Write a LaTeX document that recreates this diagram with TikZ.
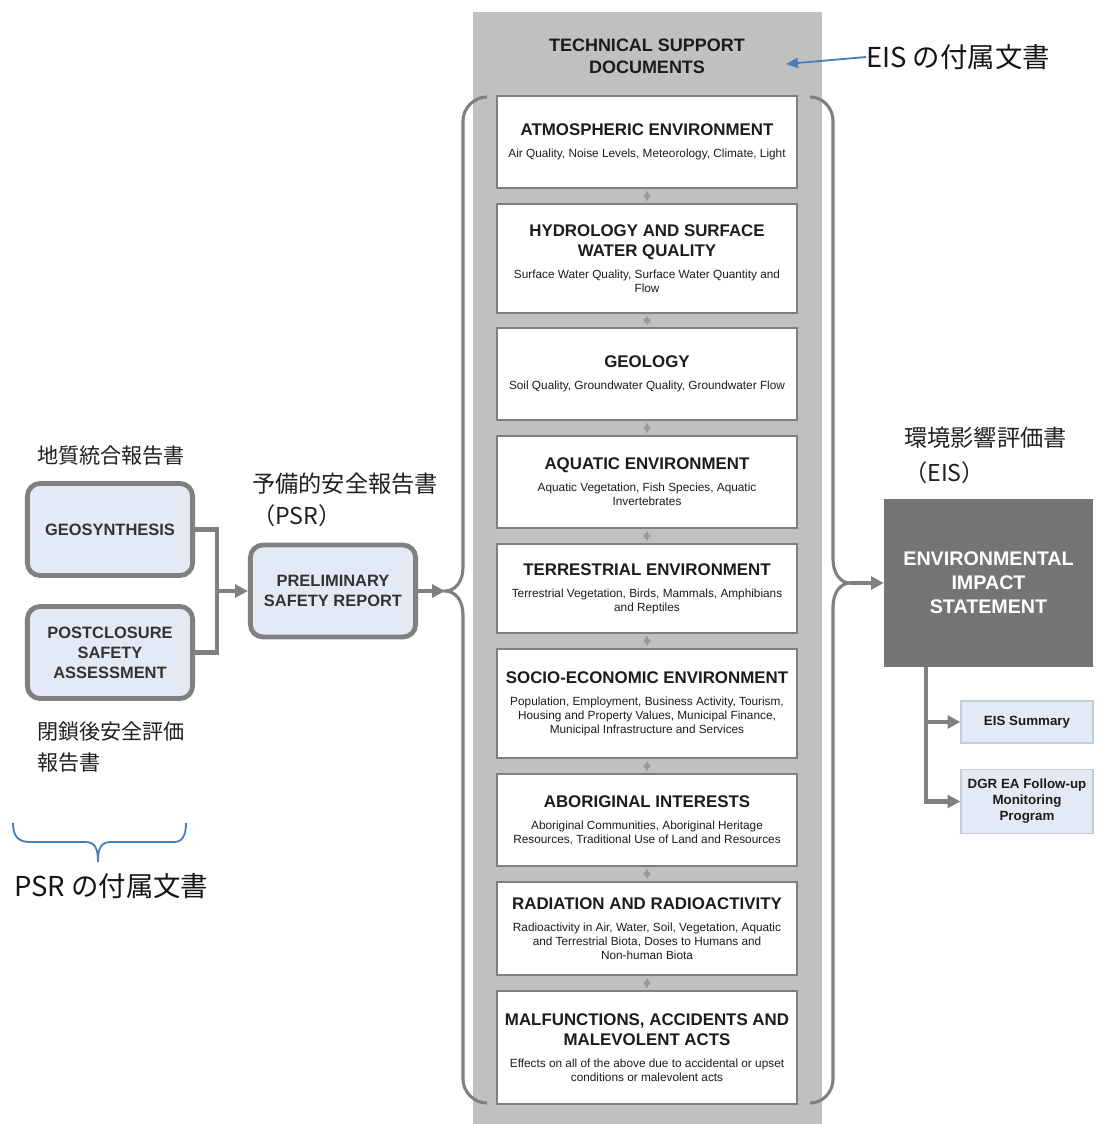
\documentclass[tikz,border=0pt]{standalone}
\usepackage{fontspec}
\setmainfont{Liberation Sans}
\newfontfamily\jpfont{Noto Sans CJK JP}
\usetikzlibrary{arrows.meta,positioning,calc}
\definecolor{colgrey}{RGB}{192,192,192}
\definecolor{edgegrey}{RGB}{128,128,128}
\definecolor{darkbox}{RGB}{117,117,117}
\definecolor{paleblue}{RGB}{227,234,246}
\definecolor{paleedge}{RGB}{196,204,216}
\definecolor{noteblue}{RGB}{74,126,187}
\definecolor{inktext}{RGB}{28,28,28}
\newcommand{\docentry}[2]{{\fontsize{12}{14.4}\selectfont\bfseries #1\par}\vspace{5.5pt}{\fontsize{8.4}{10}\selectfont #2\par}}
\tikzset{
  column/.style={rectangle, fill=colgrey, inner sep=0pt, minimum width={349*0.025cm}, minimum height={1112*0.025cm}},
  coltitle/.style={font=\fontsize{12.8}{15.6}\selectfont\bfseries, text=inktext, align=center, inner sep=0pt},
  docbox/.style={rectangle, draw=edgegrey, line width=1.1pt, fill=white, minimum width=7.5cm, text width=7.3cm, align=flush center, inner sep=2pt, text=inktext},
  srcbox/.style={rectangle, rounded corners=9pt, draw=edgegrey, line width=3.4pt, fill=paleblue, minimum width=4.13cm, minimum height=2.3cm, align=center, font=\fontsize{11.7}{14.2}\selectfont\bfseries, text=inktext!90},
  eisbox/.style={rectangle, fill=darkbox, minimum width=5.22cm, minimum height=4.2cm, align=center, font=\fontsize{14}{17}\selectfont\bfseries, text=white},
  subbox/.style={rectangle, draw=paleedge, line width=0.8pt, fill=paleblue, minimum width=3.3cm, align=center, font=\fontsize{9.5}{11.4}\selectfont\bfseries, text=inktext},
  conn/.style={draw=edgegrey, line width=3pt},
  arr/.style={conn, -{Triangle[length=3.2mm,width=3.2mm]}},
  brace/.style={draw=edgegrey, line width=2.2pt},
  link/.style={draw=black!40, line width=0.6pt, {Latex[length=1.7mm,width=1.9mm]}-{Latex[length=1.7mm,width=1.9mm]}, shorten <=1.2pt, shorten >=1.2pt},
  jplabel/.style={font=\jpfont\fontsize{15}{18}\selectfont, anchor=west, inner sep=0pt, text=black!88},
  jpbig/.style={jplabel, font=\jpfont\fontsize{16.5}{19}\selectfont},
  notelabel/.style={jplabel, font=\jpfont\fontsize{19.5}{22}\selectfont, text=black!92},
  notearr/.style={draw=noteblue, line width=1.3pt, -{Triangle[length=3mm,width=2.6mm]}},
  notebrace/.style={draw=noteblue, line width=1.3pt},
}
\begin{document}
\begin{tikzpicture}[x=0.025cm,y=-0.025cm]
  \useasboundingbox (0,0) rectangle (1097,1124);
  \node[column] (col) at (647.5,568) {};
  \node[coltitle] (tsd) at (647,56) {TECHNICAL SUPPORT\\DOCUMENTS};
  \foreach \i/\y/\h/\t/\s in {1/142/92/{ATMOSPHERIC ENVIRONMENT}/{Air Quality, Noise Levels, Meteorology, Climate, Light},
                              2/258.5/109/{HYDROLOGY AND SURFACE\\WATER QUALITY}/{Surface Water Quality, Surface Water Quantity and\\Flow},
                              3/374/92/{GEOLOGY}/{Soil Quality, Groundwater Quality, Groundwater Flow},
                              4/482/92/{AQUATIC ENVIRONMENT}/{Aquatic Vegetation, Fish Species, Aquatic\\Invertebrates},
                              5/588.5/89/{TERRESTRIAL ENVIRONMENT}/{Terrestrial Vegetation, Birds, Mammals, Amphibians\\and Reptiles},
                              6/703.5/109/{SOCIO-ECONOMIC ENVIRONMENT}/{Population, Employment, Business Activity, Tourism,\\Housing and Property Values, Municipal Finance,\\Municipal Infrastructure and Services},
                              7/820/92/{ABORIGINAL INTERESTS}/{Aboriginal Communities, Aboriginal Heritage\\Resources, Traditional Use of Land and Resources},
                              8/928.5/93/{RADIATION AND RADIOACTIVITY}/{Radioactivity in Air, Water, Soil, Vegetation, Aquatic\\and Terrestrial Biota, Doses to Humans and\\Non-human Biota},
                              9/1047.5/113/{MALFUNCTIONS, ACCIDENTS AND\\MALEVOLENT ACTS}/{Effects on all of the above due to accidental or upset\\conditions or malevolent acts}}{
    \node[docbox,minimum height={\h*0.025cm}] (d\i) at (647,\y) {\docentry{\t}{\s}};
  }
  \foreach \j [remember=\j as \i (initially 1)] in {2,...,9}{\draw[link] (d\i.south) -- (d\j.north);}
  \node[srcbox] (geo) at (110,529.5) {GEOSYNTHESIS};
  \node[srcbox] (post) at (110,652.5) {POSTCLOSURE\\SAFETY\\ASSESSMENT};
  \node[srcbox] (psr) at (333,591) {PRELIMINARY\\SAFETY REPORT};
  \node[eisbox] (eis) at (988.5,583) {ENVIRONMENTAL\\IMPACT\\STATEMENT};
  \node[subbox,minimum height=1.05cm] (sum) at (1027,722) {EIS Summary};
  \node[subbox,minimum height=1.58cm] (dgr) at (1027,801.5) {DGR EA Follow-up\\Monitoring\\Program};
  \coordinate (join) at (217,591);
  \coordinate (lcusp) at (445,591);
  \coordinate (rcusp) at (850,583);
  \coordinate (trunk) at (926,667);
  \draw[conn] (geo.east) -| (join) |- (post.east);
  \draw[arr] (join) -- (psr.west);
  \draw[arr] (psr.east) -- (lcusp);
  \draw[brace] (487,97) .. controls (474,97) and (463,108) .. (463,121) -- (463,567)
    .. controls (463,582) and (455,591) .. (lcusp) .. controls (455,591) and (463,600) .. (463,615)
    -- (463,1079) .. controls (463,1092) and (474,1103) .. (487,1103);
  \draw[brace] (810,97) .. controls (823,97) and (833,108) .. (833,121) -- (833,559)
    .. controls (833,574) and (841,583) .. (rcusp) .. controls (841,583) and (833,592) .. (833,607)
    -- (833,1079) .. controls (833,1092) and (823,1103) .. (810,1103);
  \draw[arr] (rcusp) -- (eis.west);
  \draw[arr] (trunk) |- (sum.west);
  \draw[arr] (trunk) |- (dgr.west);
  \node[jplabel] (geojp) at (37,456) {地質統合報告書};
  \node[jplabel] (postjp) at (37,731) {閉鎖後安全評価};
  \node[jplabel] (postjp2) at (37,763) {報告書};
  \node[jpbig] (psrjp) at (252,484) {予備的安全報告書};
  \node[jpbig] (psrab) at (252,516) {（PSR）};
  \node[jpbig] (eisjp) at (904,438) {環境影響評価書};
  \node[jpbig] (eisab) at (904,473) {（EIS）};
  \node[notelabel] (eisdoc) at (866,57) {EIS の付属文書};
  \node[notelabel] (psrdoc) at (14,886) {PSR の付属文書};
  \coordinate (tsdtip) at (786,64);
  \draw[notearr] (eisdoc.west) -- (tsdtip);
  \draw[notebrace] (13,823) .. controls (13,836) and (18,842) .. (30,842) -- (85,842)
    .. controls (95,842) and (98,848) .. (98,862) .. controls (98,848) and (101,842) .. (111,842)
    -- (174,842) .. controls (182,842) and (186,836) .. (186,823);
\end{tikzpicture}
\end{document}
